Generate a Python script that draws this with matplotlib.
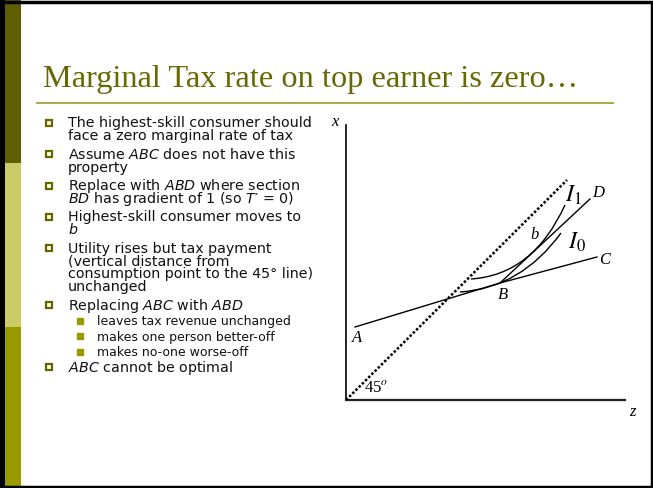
import matplotlib
matplotlib.use('Agg')
import matplotlib.pyplot as plt
from matplotlib.patches import Rectangle, PathPatch
from matplotlib.path import Path

W, H = 653, 488

title = 'Marginal Tax rate on top earner is zero…'

# slide bullets: (level, lines)
bullet_levels = [1, 1, 1, 1, 1, 1, 2, 2, 2, 1]
bullet_lines = [
    ['The highest-skill consumer should', 'face a zero marginal rate of tax'],
    [r'Assume $\mathit{ABC}$ does not have this', 'property'],
    [r'Replace with $\mathit{ABD}$ where section',
     r'$\mathit{BD}$ has gradient of 1 (so $\mathit{T}$′ = 0)'],
    ['Highest-skill consumer moves to', r'$\mathit{b}$'],
    ['Utility rises but tax payment', '(vertical distance from',
     'consumption point to the 45° line)', 'unchanged'],
    [r'Replacing $\mathit{ABC}$ with $\mathit{ABD}$'],
    ['leaves tax revenue unchanged'],
    ['makes one person better-off'],
    ['makes no-one worse-off'],
    [r'$\mathit{ABC}$ cannot be optimal'],
]

# diagram, in (z, x) units
axis_z_end = 279
axis_x_end = 275
line45 = ([0, 221], [0, 220])
abc_z = [9, 154, 251]
abc_x = [73, 117, 143]
bd_z = [154, 244]
bd_x = [117, 201]
# indifference curves: start, control, end (quadratic bezier)
i0_pts = [(114, 108), (175, 112), (215, 167)]
i1_pts = [(125, 121), (187, 125), (219, 195)]

point_labels = ['A', 'B', 'C', 'D', 'b']
point_label_pos = [(11, 62), (157, 105), (259, 140), (252, 207), (189, 165)]


def main():
    fig = plt.figure(figsize=(W / 100, H / 100), dpi=100)

    # slide background layer in pixel coordinates
    bg = fig.add_axes([0, 0, 1, 1])
    bg.set_xlim(0, W)
    bg.set_ylim(H, 0)
    bg.axis('off')

    bg.add_patch(Rectangle((5, 0), 16, 163, color='#5f5f00', lw=0))
    bg.add_patch(Rectangle((5, 163), 16, 164, color='#cccc66', lw=0))
    bg.add_patch(Rectangle((5, 327), 16, 160, color='#999900', lw=0))
    bg.add_patch(Rectangle((0, 0), 5, H, color='black', lw=0))
    bg.add_patch(Rectangle((1.5, 1.5), W - 3, H - 3, fill=False,
                           ec='black', lw=2.5))

    bg.text(43, 87, title, fontsize=23.3, family='Liberation Serif',
            color='#686800', va='baseline', ha='left')
    bg.plot([37, 613], [102.7, 102.7], color='#a3a33a', lw=1.3)

    y = 123
    prev = None
    for lev, lines in zip(bullet_levels, bullet_lines):
        if prev is not None:
            y += 18.5 if (lev == 1 and prev == 1) else 15.5
        if lev == 1:
            bg.plot(49, y, marker='s', ms=5, mfc='#ffffee', mec='#666600',
                    mew=1.6)
            tx, fs = 68, 10.3
        else:
            bg.plot(80, y, marker='s', ms=4.5, mfc='#999900', mec='#999900')
            tx, fs = 97, 9.0
        for k, ln in enumerate(lines):
            if k > 0:
                y += 12.8
            bg.text(tx, y + 4.5, ln, fontsize=fs, family='DejaVu Sans',
                    math_fontfamily='dejavusans', color='#111111',
                    va='baseline', ha='left')
        prev = lev

    # diagram axes: one unit == one pixel, origin at (346, 400)
    ax = fig.add_axes([346 / W, (H - 400) / H, 300 / W, 290 / H])
    ax.set_xlim(0, 300)
    ax.set_ylim(0, 290)
    ax.axis('off')

    ax.plot([0, 0], [0, axis_x_end], color='black', lw=1.2, clip_on=False)
    ax.plot([0, axis_z_end], [0, 0], color='#222222', lw=1.6, clip_on=False)
    ax.plot(line45[0], line45[1], color='black', lw=1.8,
            linestyle=(0, (1, 0.8)))
    ax.plot(abc_z, abc_x, color='black', lw=1.0)
    ax.plot(bd_z, bd_x, color='black', lw=1.0)
    for pts in (i0_pts, i1_pts):
        path = Path(pts, [Path.MOVETO, Path.CURVE3, Path.CURVE3])
        ax.add_patch(PathPatch(path, fill=False, ec='black', lw=1.0))

    serif = dict(family='Liberation Serif', style='italic', color='black',
                 ha='center', va='center')
    for lab, (pz, px) in zip(point_labels, point_label_pos):
        ax.text(pz, px, lab, fontsize=12, **serif)
    ax.text(-11, 278, 'x', fontsize=12, clip_on=False, **serif)
    ax.text(286, -12, 'z', fontsize=12, clip_on=False, **serif)
    ax.text(227, 205, r'$I_1$', fontsize=17, math_fontfamily='stix',
            ha='center', va='center')
    ax.text(231, 158, r'$I_0$', fontsize=17, math_fontfamily='stix',
            ha='center', va='center')
    ax.text(30, 12, r'45$^{o}$', fontsize=12, family='Liberation Serif',
            math_fontfamily='stix', ha='center', va='center')

    fig.savefig('out.png', dpi=100)


if __name__ == '__main__':
    main()
